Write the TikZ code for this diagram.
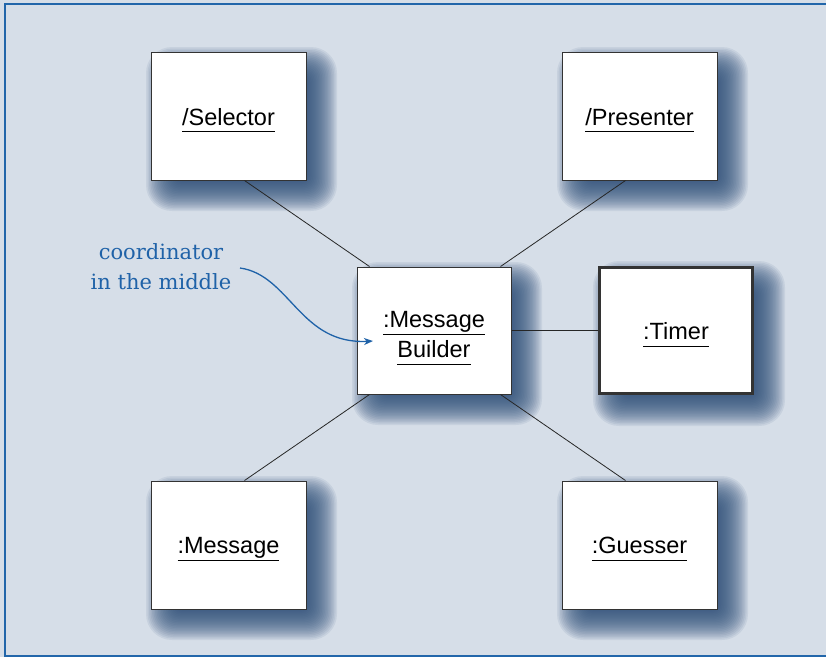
\documentclass[tikz,border=0pt]{standalone}
\usepackage{fontspec}
\setmainfont{Liberation Sans}
\newfontfamily\notefont{DejaVu Serif}
\usetikzlibrary{arrows.meta}
\definecolor{bgc}{HTML}{D6DEE8}
\definecolor{framec}{HTML}{2266AA}
\definecolor{shadc}{HTML}{2E4E78}
\definecolor{notec}{HTML}{1F62A8}
\newcommand{\ulab}[1]{\underline{#1\rule[-5pt]{0pt}{0pt}}}
\newcommand{\lab}[1]{\raisebox{-4pt}[\height][\depth]{\ulab{#1}}}
\newcommand{\myshadow}[4]{%
  \foreach \k in {0,...,23}{%
    \fill[shadc, fill opacity=0.085, rounded corners={(26-\k)*1pt}]
      ({#1-#3/2+13-18+1.5*\k},{#2-#4/2+13-18+1.5*\k}) rectangle ({#1+#3/2+13+18-1.5*\k},{#2+#4/2+13+18-1.5*\k});
  }%
}
\tikzset{
  obj/.style={draw=black!80, line width=1pt, fill=white, minimum width=155pt, minimum height=128pt,
    align=center, font=\fontsize{23.5}{29}\selectfont, inner sep=0pt},
  thickobj/.style={obj, line width=3.5pt},
  link/.style={draw=black!85, line width=0.8pt},
  note/.style={text=notec, align=center, font=\notefont\fontsize{21}{30}\selectfont},
  notearrow/.style={draw=notec, line width=1.3pt, -{Stealth[length=9pt,width=7pt]}}
}
\begin{document}
\begin{tikzpicture}[x=1pt,y=-1pt]
\useasboundingbox (0,0) rectangle (826,657);
\fill[bgc] (0,0) rectangle (826,657);
\draw[framec, line width=2pt] (840,4) -- (5,4) -- (5,656) -- (840,656);
\myshadow{228.5}{116}{155}{128}
\myshadow{639.5}{116}{155}{128}
\myshadow{434}{330.5}{154}{127}
\myshadow{676}{330.5}{156}{129}
\myshadow{228.5}{545}{155}{128}
\myshadow{639.5}{545}{155}{128}
\node[obj] (sel) at (228.5,116) {\lab{/Selector}};
\node[obj] (pre) at (639.5,116) {\lab{/Presenter}};
\node[obj, minimum width=154pt, minimum height=127pt] (mb) at (434,330.5) {\raisebox{-6pt}[\height][\depth]{\renewcommand{\arraystretch}{1.05}\begin{tabular}{@{}c@{}}\ulab{:Message}\\\ulab{Builder}\end{tabular}}};
\node[thickobj, minimum width=153pt, minimum height=126pt] (tim) at (676,330.5) {\lab{:Timer}};
\node[obj] (msg) at (228.5,545) {\lab{:Message}};
\node[obj] (gue) at (639.5,545) {\lab{:Guesser}};
\coordinate (mbnw) at ([xshift=13pt]mb.north west);
\coordinate (mbne) at ([xshift=-11pt]mb.north east);
\coordinate (mbsw) at ([xshift=13pt]mb.south west);
\coordinate (mbse) at ([xshift=-11pt]mb.south east);
\coordinate (selb) at ([xshift=16pt]sel.south);
\coordinate (preb) at ([xshift=-14pt]pre.south);
\coordinate (msgt) at ([xshift=16pt]msg.north);
\coordinate (guet) at ([xshift=-14pt]gue.north);
\draw[link] (selb) -- (mbnw);
\draw[link] (preb) -- (mbne);
\draw[link] (mbsw) -- (msgt);
\draw[link] (mbse) -- (guet);
\draw[link] (mb.east) -- (tim.west);
\node[note] (nt) at (161,267) {coordinator\\in the middle};
\coordinate (ntend) at (240,268);
\coordinate (tip) at (373,341);
\draw[notearrow] (ntend) .. controls (290,275) and (300,345) .. (tip);
\end{tikzpicture}
\end{document}
